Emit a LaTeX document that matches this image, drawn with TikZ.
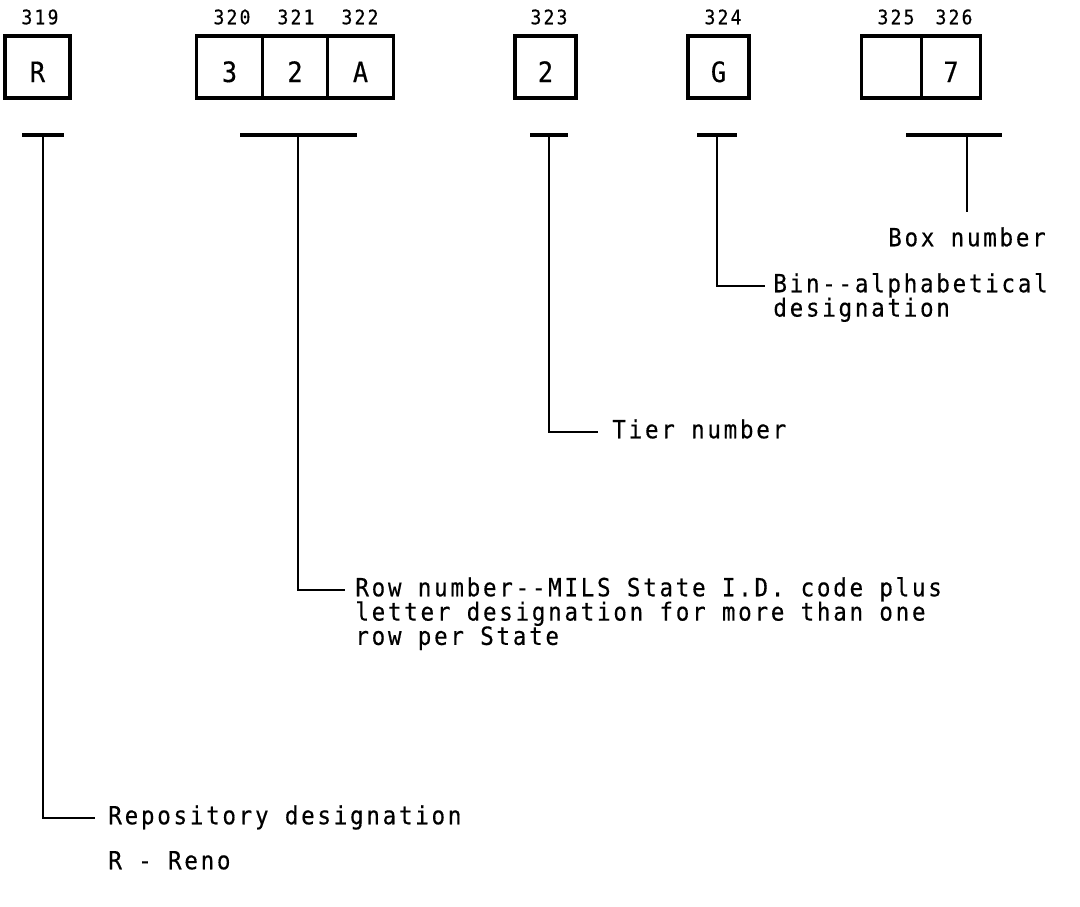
\documentclass[tikz,border=0pt]{standalone}
\usepackage{fontspec}
\usetikzlibrary{positioning}
\newfontfamily\typewr[FakeStretch=0.9,LetterSpace=11,FakeBold=0.4]{DejaVu Sans Mono}
\tikzset{
  cell/.style={draw,line width=1.6pt,outer sep=0pt,inner sep=0pt,
    minimum width=#1,minimum height=31pt,text height=15pt,text depth=0pt,
    font=\typewr\fontsize{14pt}{14pt}\selectfont},
  cell/.default=32.5pt,
  numlab/.style={inner sep=0pt,font=\typewr\fontsize{10pt}{10pt}\selectfont},
  txt/.style={inner sep=0pt,anchor=west,text height=9pt,text depth=2.75pt,
    font=\typewr\fontsize{12.5pt}{11.75pt}\selectfont},
  tline/.style={line width=1.6pt},
  lead/.style={line width=1.4pt}
}
\begin{document}
\begin{tikzpicture}[x=0.5pt,y=-0.5pt]
\useasboundingbox (0,0) rectangle (1080,906);

\node[cell] (bR) at (37.5,67) {R};
\node[cell=32.75pt] (b320) at (229.5,67) {3};
\node[cell=32.75pt,right=0pt of b320] (b321) {2};
\node[cell=32.75pt,right=0pt of b321] (b322) {A};
\node[cell=30.5pt] (b323) at (545.5,67) {2};
\node[cell=30.5pt] (b324) at (718.5,67) {G};
\node[cell=30pt] (b325) at (891.5,67) {};
\node[cell=29.5pt,right=0pt of b325] (b326) {7};

\foreach \n/\x in {319/40,320/232,321/296,322/360,323/549,324/723,325/896,326/954}
  \node[numlab] (l\n) at (\x,17) {\n};

\coordinate (tR) at (43,135);
\coordinate (tRow) at (298,135);
\coordinate (tTier) at (549,135);
\coordinate (tBin) at (717,135);
\coordinate (tBox) at (967,135);
\draw[tline] (tR) +(-21,0) -- +(21,0);
\draw[tline] (tRow) +(-58,0) -- +(59,0);
\draw[tline] (tTier) +(-19,0) -- +(19,0);
\draw[tline] (tBin) +(-20,0) -- +(20,0);
\draw[tline] (tBox) +(-61,0) -- +(35,0);

\node[txt] (repoa) at (108,818) {Repository designation};
\node[txt] (repob) at (108,863) {R - Reno};
\node[txt] (rowa) at (355,590) {Row number--MILS State I.D. code plus};
\node[txt,below=0pt of rowa.south west,anchor=north west] (rowb) {letter designation for more than one};
\node[txt,below=0pt of rowb.south west,anchor=north west] (rowc) {row per State};
\node[txt] (tier) at (612,432) {Tier number};
\node[txt] (bina) at (773,286) {Bin--alphabetical};
\node[txt,below=0pt of bina.south west,anchor=north west] (binb) {designation};
\node[txt,anchor=center] (boxno) at (967,240) {Box number};

\draw[lead] (tR) |- ([xshift=-6.5pt]repoa.west);
\draw[lead] (tRow) |- ([xshift=-5pt]rowa.west);
\draw[lead] (tTier) |- ([xshift=-7pt]tier.west);
\draw[lead] (tBin) |- ([xshift=-4pt]bina.west);
\draw[lead] (tBox) -- ([yshift=8pt]boxno.north);
\end{tikzpicture}
\end{document}
